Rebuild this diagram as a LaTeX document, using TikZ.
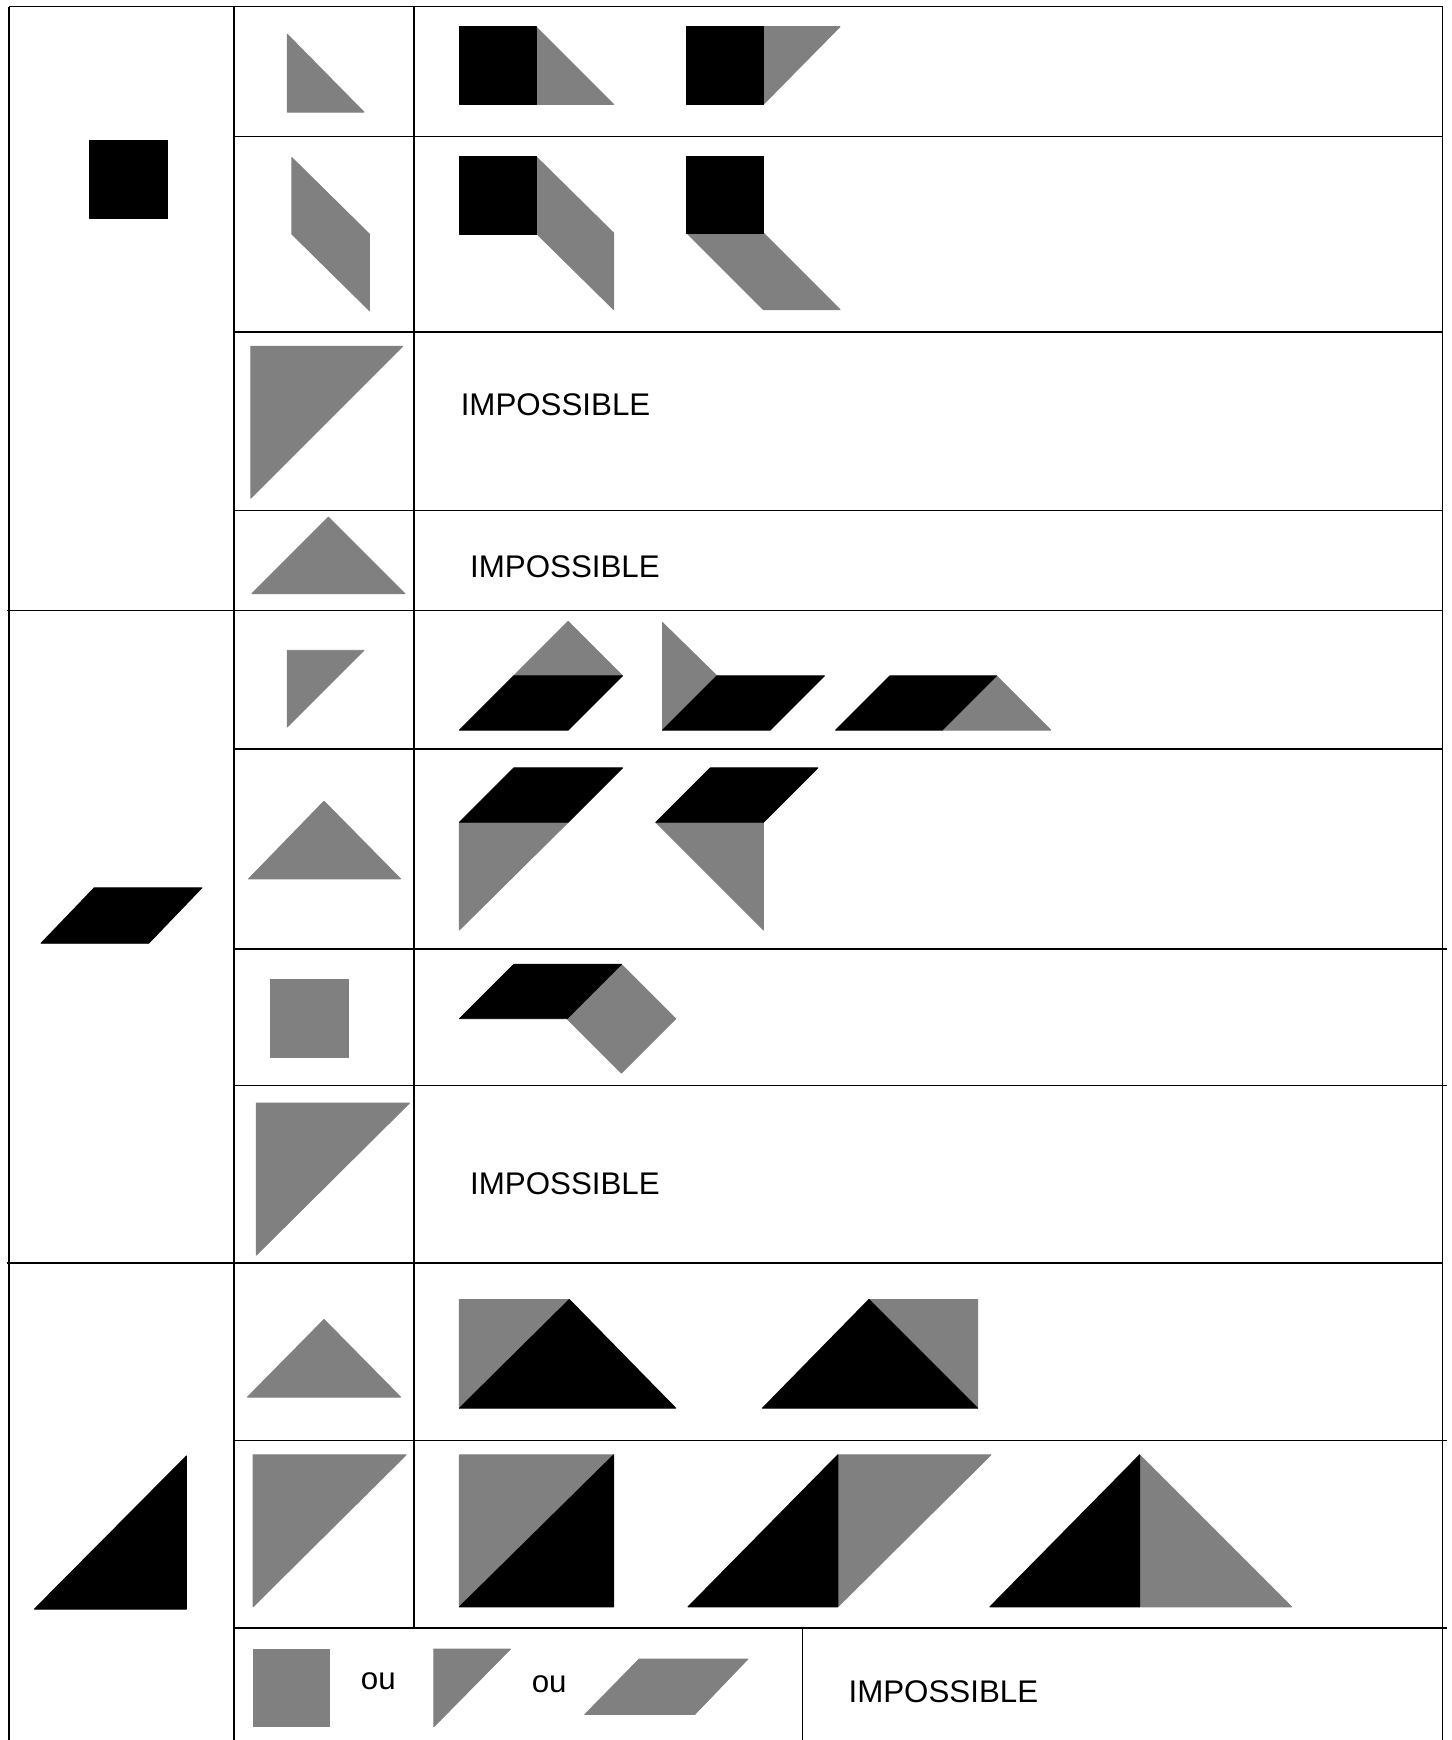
\documentclass[tikz,border=0pt]{standalone}
\usepackage{fontspec}
\setmainfont{Liberation Sans}
\definecolor{tgray}{RGB}{128,128,128}
\begin{document}
\begin{tikzpicture}[x=1pt,y=-1pt,
  gridline/.style={line width=1.3pt},
  blk/.style={fill=black, draw=black, line width=0.8pt, line join=round},
  gry/.style={fill=tgray, draw=tgray, line width=0.8pt, line join=round},
  lbl/.style={anchor=base west, inner sep=0pt, font=\fontsize{28.2}{34}\selectfont}]
\useasboundingbox (0,0) rectangle (1308,1568);
% ---------- grid ----------
\draw[gridline] (8,6) -- (1300,6);
\draw[gridline] (8,6) -- (8,1568);
\draw[gridline] (1300,6) -- (1300,1568);
\draw[gridline] (211,6) -- (211,1568);
\draw[gridline] (373,6) -- (373,1467);
\draw[gridline] (723,1467) -- (723,1568);
\draw[gridline] (6,550) -- (1300,550);
\draw[gridline] (6,1138) -- (1300,1138);
\foreach \yy in {123,299,460,675} \draw[gridline] (210,\yy) -- (1300,\yy);
\foreach \yy in {855,978,1298,1467} \draw[gridline] (211,\yy) -- (1304,\yy);
% ================= block 1 : square =================
\draw[blk] (81,127) rectangle (151,197);
% row 1
\draw[gry] (259,31) -- (259,101) -- (328,101) -- cycle;
\draw[gry] (483,24) -- (553,94) -- (483,94) -- cycle;
\draw[blk] (414,24) rectangle (483,94);
\draw[gry] (688,24) -- (757,24) -- (688,94) -- cycle;
\draw[blk] (619,24) rectangle (688,94);
% row 2
\draw[gry] (263,142) -- (333,211) -- (333,280) -- (263,211) -- cycle;
\draw[gry] (483,141) -- (553,210) -- (553,279) -- (483,210) -- cycle;
\draw[blk] (414,141) rectangle (483,211);
\draw[gry] (619,210) -- (688,210) -- (757,279) -- (688,279) -- cycle;
\draw[blk] (619,141) rectangle (688,210);
% row 3
\draw[gry] (226,312) -- (363,312) -- (226,449) -- cycle;
\node[lbl] (imp1) at (415,374.7) {IMPOSSIBLE};
% row 4
\draw[gry] (227,535) -- (365,535) -- (296,466) -- cycle;
\node[lbl] (imp2) at (423.5,520.4) {IMPOSSIBLE};
% ================= block 2 : parallelogram =================
\draw[blk] (37,850) -- (85,800) -- (182,800) -- (134,850) -- cycle;
% row 1
\draw[gry] (259,586) -- (328,586) -- (259,655) -- cycle;
\draw[gry] (463,609) -- (512,560) -- (561,609) -- cycle;
\draw[blk] (414,658) -- (463,609) -- (561,609) -- (512,658) -- cycle;
\draw[gry] (597,561) -- (646,609) -- (597,658) -- cycle;
\draw[blk] (597,658) -- (646,609) -- (743,609) -- (694,658) -- cycle;
\draw[gry] (849,658) -- (898,609) -- (947,658) -- cycle;
\draw[blk] (753,658) -- (802,609) -- (898,609) -- (849,658) -- cycle;
% row 2
\draw[gry] (292,722) -- (361,792) -- (224,792) -- cycle;
\draw[gry] (414,741) -- (512,741) -- (414,838) -- cycle;
\draw[blk] (414,741) -- (463,692) -- (561,692) -- (512,741) -- cycle;
\draw[gry] (591,741) -- (688,741) -- (688,838) -- cycle;
\draw[blk] (591,741) -- (640,692) -- (737,692) -- (688,741) -- cycle;
% row 3
\draw[gry] (244,883) rectangle (314,953);
\draw[gry] (511,918) -- (560,869) -- (609,918) -- (560,967) -- cycle;
\draw[blk] (414,918) -- (463,869) -- (560,869) -- (511,918) -- cycle;
% row 4
\draw[gry] (231,994) -- (369,994) -- (231,1131) -- cycle;
\node[lbl] (imp3) at (423.5,1076.5) {IMPOSSIBLE};
% ================= block 3 : big triangle =================
\draw[blk] (31,1450) -- (168,1450) -- (168,1312) -- cycle;
% row 1
\draw[gry] (292,1189) -- (361,1259) -- (223,1259) -- cycle;
\draw[gry] (414,1171) -- (513,1171) -- (414,1269) -- cycle;
\draw[blk] (414,1269) -- (513,1171) -- (609,1269) -- cycle;
\draw[gry] (783,1171) -- (881,1171) -- (881,1269) -- cycle;
\draw[blk] (687,1269) -- (783,1171) -- (881,1269) -- cycle;
% row 2
\draw[gry] (228,1311) -- (366,1311) -- (228,1448) -- cycle;
\draw[gry] (414,1311) -- (553,1311) -- (414,1448) -- cycle;
\draw[blk] (414,1448) -- (553,1311) -- (553,1448) -- cycle;
\draw[gry] (755,1311) -- (893,1311) -- (755,1448) -- cycle;
\draw[blk] (620,1448) -- (755,1311) -- (755,1448) -- cycle;
\draw[gry] (1027,1311) -- (1164,1448) -- (1027,1448) -- cycle;
\draw[blk] (892,1448) -- (1027,1311) -- (1027,1448) -- cycle;
% row 3
\draw[gry] (228,1486) rectangle (297,1556);
\node[lbl] (ou1) at (325,1522.4) {ou};
\draw[gry] (391,1486) -- (460,1486) -- (391,1556) -- cycle;
\node[lbl] (ou2) at (479,1525.4) {ou};
\draw[gry] (527,1545) -- (576,1495) -- (674,1495) -- (626,1545) -- cycle;
\node[lbl] (imp4) at (764.5,1533.8) {IMPOSSIBLE};
\end{tikzpicture}
\end{document}
